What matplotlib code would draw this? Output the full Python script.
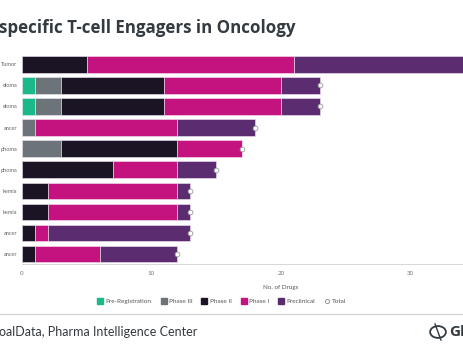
import matplotlib
matplotlib.use("Agg")
import matplotlib.pyplot as plt
import numpy as np
from matplotlib.lines import Line2D
from matplotlib.patches import Circle

categories = ["Tumor", "eloma", "eloma", "ancer", "phoma", "phoma", "kemia", "kemia", "ancer", "ancer"]
pre_registration = [0, 1, 1, 0, 0, 0, 0, 0, 0, 0]
phase3 = [0, 2, 2, 1, 3, 0, 0, 0, 0, 0]
phase2 = [5, 8, 8, 0, 9, 7, 2, 2, 1, 1]
phase1 = [16, 9, 9, 11, 5, 5, 10, 10, 1, 5]
preclinical = [16, 3, 3, 6, 0, 3, 1, 1, 11, 6]
series_names = ["Pre-Registration", "Phase III", "Phase II", "Phase I", "Preclinical"]
colors = ["#19b98a", "#6c7479", "#1a1424", "#c4137f", "#5b2d70"]
xticks = [0, 10, 20, 30]

W, H = 464, 348
fig = plt.figure(figsize=(W / 100, H / 100), dpi=100)
fig.patch.set_facecolor("white")

left = 22 / W
bottom = 1 - 264.3 / H
top = 1 - 53.8 / H
ax = fig.add_axes([left, bottom, (540 - 22) / W, top - bottom])

series = [pre_registration, phase3, phase2, phase1, preclinical]
y = np.arange(len(categories))
cum = np.zeros(len(categories))
for vals, c in zip(series, colors):
    v = np.array(vals, dtype=float)
    ax.barh(y, v, left=cum, height=0.78, color=c, edgecolor="#f2e6f2", linewidth=0.4)
    cum += v
totals = cum
ax.plot(totals, y, "o", markersize=3.4, markerfacecolor="white", markeredgecolor="#999999",
        markeredgewidth=0.6, zorder=5, clip_on=False)

ax.set_ylim(len(categories) - 0.51, -0.5)
ax.set_xlim(0, 40)
ax.set_yticks(y)
ax.set_yticklabels(categories, fontsize=4.1, color="#666666", family="Lato")
ax.set_xticks(xticks)
ax.set_xticklabels([str(t) for t in xticks], fontsize=4.5, color="#777777", family="Lato")
ax.tick_params(axis="x", length=0, pad=5)
ax.tick_params(axis="y", length=0, pad=3.5)
for s in ["top", "right", "left"]:
    ax.spines[s].set_visible(False)
ax.spines["bottom"].set_color("#d0d0d0")
ax.spines["bottom"].set_linewidth(0.6)

# x axis label
fig.text(281 / W, 1 - 287 / H, "No. of Drugs", fontsize=4.5, color="#555555", ha="center", va="center",
         family="Lato")

# Title
fig.text(-0.003, 1 - 28 / H, "specific T-cell Engagers in Oncology", fontsize=12.2, fontweight="bold",
         color="#333a40", ha="left", va="center", family="Open Sans")

# Legend
handles = [Line2D([0], [0], marker="s", linestyle="", markersize=4, markerfacecolor=c, markeredgecolor=c)
           for c in colors]
handles.append(Line2D([0], [0], marker="o", linestyle="", markersize=3, markerfacecolor="white",
                      markeredgecolor="#888888", markeredgewidth=0.6))
fig.legend(handles, series_names + ["Total"], loc="center", bbox_to_anchor=(222 / W, 1 - 301 / H),
           ncol=6, frameon=False, prop={"family": "Lato", "size": 4.6}, handlelength=0.8,
           handletextpad=0.4, columnspacing=1.5, labelcolor="#555555")

# Separator line
fig.add_artist(Line2D([0, 1], [1 - 313.5 / H, 1 - 313.5 / H], color="#cfcfcf", linewidth=0.8,
                      transform=fig.transFigure))

# Footer
fig.text(-0.002, 1 - 332 / H, "oalData, Pharma Intelligence Center", fontsize=9, color="#333a40",
         ha="left", va="center", family="Lato")

# Logo
fig.add_artist(Circle((438 / W, 1 - 332 / H), 0.017, transform=fig.transFigure, fill=False,
                      edgecolor="#333a40", linewidth=1.3))
fig.add_artist(Line2D([435 / W, 441 / W], [1 - 324 / H, 1 - 340 / H], color="#333a40", linewidth=1.0,
                      transform=fig.transFigure))
fig.text(449 / W, 1 - 332 / H, "Gl", fontsize=11, fontweight="bold", color="#333a40", ha="left",
         va="center", family="Open Sans")

fig.savefig("out.png", dpi=100)
